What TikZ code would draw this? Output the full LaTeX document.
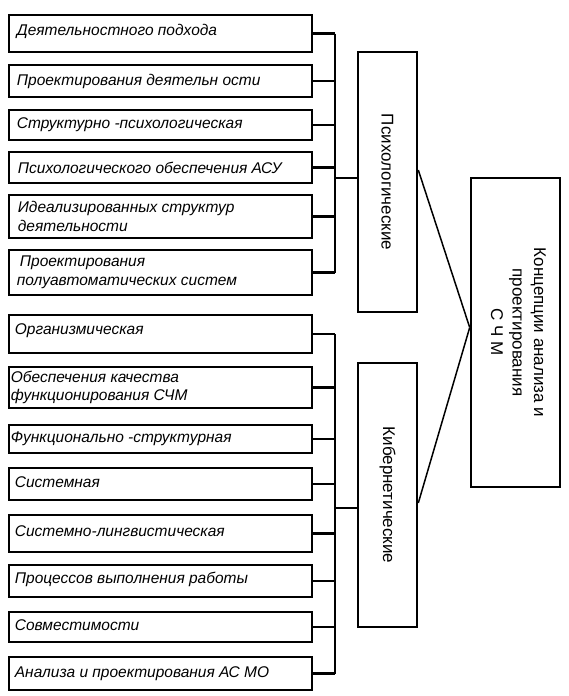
\documentclass[tikz,border=0pt]{standalone}
\usepackage{fontspec}
\setmainfont{Liberation Sans}
\usetikzlibrary{calc}
\begin{document}
\begin{tikzpicture}[x=1pt,y=-1pt,
  leftbox/.style={draw,line width=2.6pt,minimum width=303pt,inner sep=0pt,anchor=center},
  lefttext/.style={anchor=west,align=left,font=\fontsize{15.5}{18.5}\selectfont\itshape,inner sep=0pt},
  conn/.style={line width=2.2pt},
  diag/.style={line width=1.5pt},
  vbox/.style={draw,line width=2.6pt,inner sep=0pt},
  vtext/.style={rotate=-90,align=center,font=\fontsize{17}{21.5}\selectfont,inner sep=0pt}]
\useasboundingbox (0,0) rectangle (568,696);
% left boxes: top, bottom
\foreach \n/\t/\b in {1/15/52,2/65/97,3/110/140,4/152/183,5/195/238,6/250/295,7/315/353,8/367/408,9/425/453,10/468/500,11/515/552,12/565/597,13/612/642,14/657/690}{
  \node[leftbox,minimum height={\b-\t}] (b\n) at (160.5,{(\t+\b)/2}) {};
}
\node[lefttext] (t1) at ([xshift=9pt,yshift=2pt]b1.west) {Деятельностного подхода};
\node[lefttext] (t2) at ([xshift=9pt]b2.west) {Проектирования деятельн ости};
\node[lefttext] (t3) at ([xshift=9pt]b3.west) {Структурно -психологическая};
\node[lefttext] (t4) at ([xshift=10pt]b4.west) {Психологического обеспечения АСУ};
\node[lefttext] (t5) at ([xshift=10pt]b5.west) {Идеализированных структур\\деятельности};
\node[lefttext] (t6) at ([xshift=9pt]b6.west) {\hspace*{3pt}Проектирования\\полуавтоматических систем};
\node[lefttext] (t7) at ([xshift=7pt,yshift=3pt]b7.west) {Организмическая};
\node[lefttext] (t8) at ([xshift=3pt]b8.west) {Обеспечения качества\\функционирования СЧМ};
\node[lefttext] (t9) at ([xshift=3pt]b9.west) {Функционально -структурная};
\node[lefttext] (t10) at ([xshift=7pt,yshift=2pt]b10.west) {Системная};
\node[lefttext] (t11) at ([xshift=7pt,yshift=2pt]b11.west) {Системно-лингвистическая};
\node[lefttext] (t12) at ([xshift=7pt,yshift=2pt]b12.west) {Процессов выполнения работы};
\node[lefttext] (t13) at ([xshift=7pt,yshift=2pt]b13.west) {Совместимости};
\node[lefttext] (t14) at ([xshift=7pt]b14.west) {Анализа и проектирования АС МО};
% vertical category boxes
\node[vbox,minimum width=59pt,minimum height=260pt] (psy) at (387.5,182) {};
\node[vtext] (psyt) at (psy.center) {Психологические};
\node[vbox,minimum width=59pt,minimum height=264pt] (kib) at (387.5,495) {};
\node[vtext] (kibt) at (kib.center) {Кибернетические};
% main box
\node[vbox,minimum width=89pt,minimum height=309pt] (main) at (515.5,332.5) {};
\node[vtext] (maint) at ([xshift=3pt]main.center) {Концепции анализа и\\проектирования\\С Ч М};
% trunks
\coordinate (tx) at (335,0);
\foreach \n in {1,...,14}{
  \draw[conn] (b\n.east) -- (b\n.east -| tx);
}
\draw[conn] (b1.east -| tx) -- (b6.east -| tx);
\draw[conn] (b7.east -| tx) -- (b14.east -| tx);
\draw[conn] ([yshift=4pt]psy.west -| tx) -- ([yshift=4pt]psy.west);
\draw[conn] ([yshift=-13pt]kib.west -| tx) -- ([yshift=-13pt]kib.west);
% diagonals
\coordinate (mj) at ([yshift=5pt]main.west);
\draw[diag] ([yshift=12pt]psy.east) -- (mj);
\draw[diag] ([yshift=-8pt]kib.east) -- (mj);
\end{tikzpicture}
\end{document}
